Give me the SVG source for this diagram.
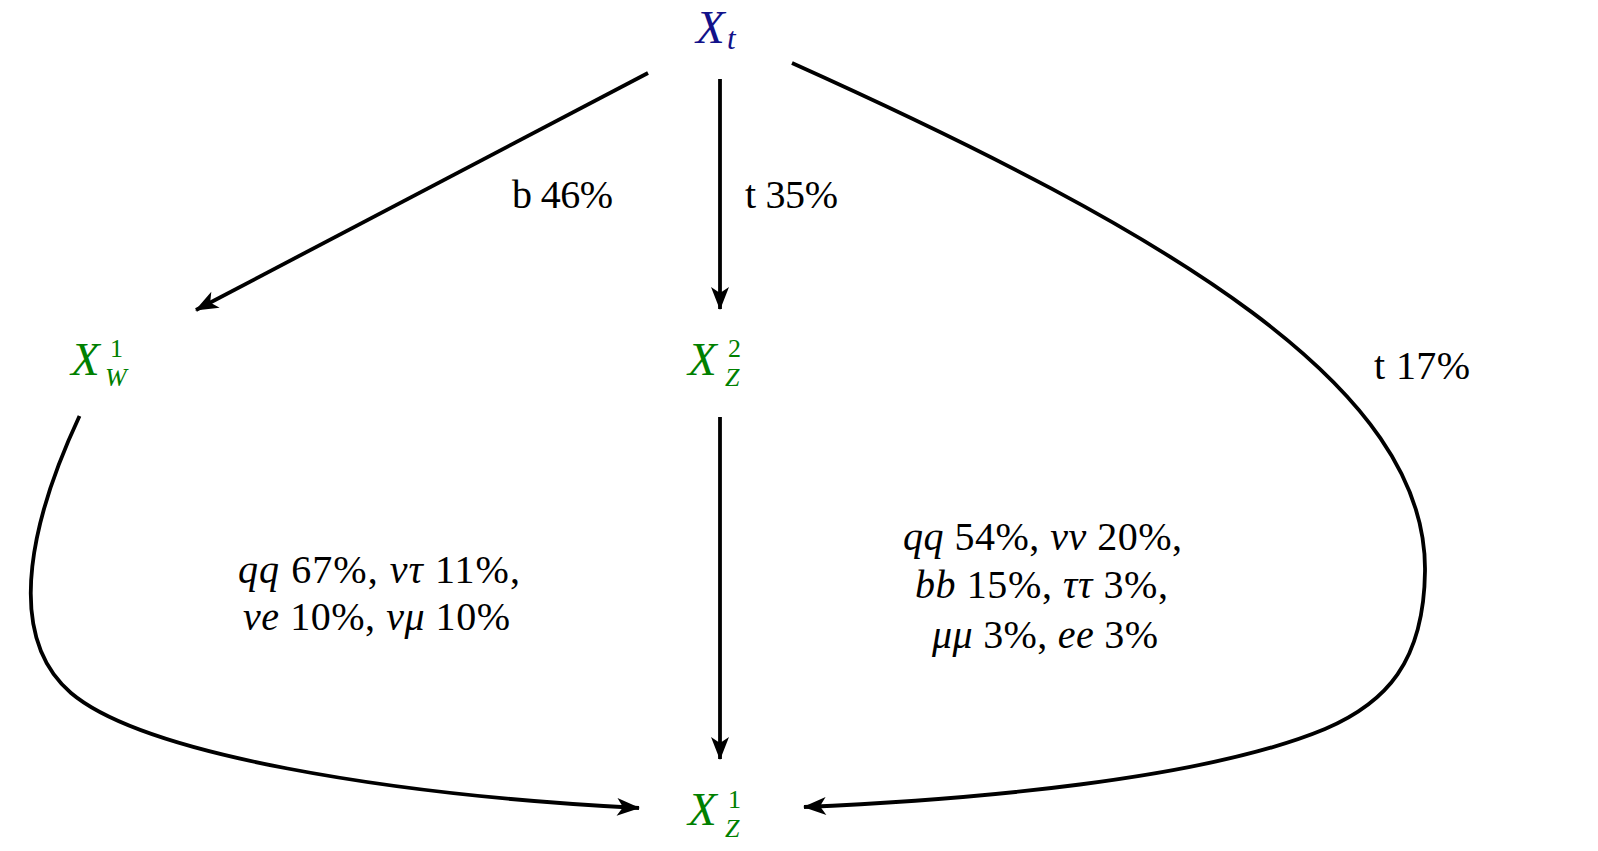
<svg xmlns="http://www.w3.org/2000/svg" width="1598" height="851" viewBox="0 0 1598 851">
<style>
.edge{fill:none;stroke:#000;stroke-width:3.8}
.node{font-family:"Liberation Serif","Times New Roman",serif;font-style:italic}
.big{font-size:47px}
.sm{font-size:26px}
.up{font-style:normal}
.lbl{font-family:"Liberation Serif","Times New Roman",serif;font-size:40px;fill:#000}
.m{font-style:italic}
.blue{fill:#12128a}
.green{fill:#008000}
</style>
<defs>
<marker id="ah" viewBox="-24 -11 26 22" refX="0" refY="0" markerWidth="26" markerHeight="22" markerUnits="userSpaceOnUse" orient="auto">
<path d="M1,0 L-22,-9 L-16,0 L-22,9 Z" fill="#000"/>
</marker>
</defs>
<rect width="1598" height="851" fill="#fff"/>
<g id="connectors">
<path class="edge" d="M648,73 L196,310" marker-end="url(#ah)"/>
<path class="edge" d="M720,79 L720,309" marker-end="url(#ah)"/>
<path class="edge" d="M720,417 L720,759" marker-end="url(#ah)"/>
<path class="edge" d="M79.5,416 C36,509 0,632 71,693 C143,754 387,795 639,808" marker-end="url(#ah)"/>
<path class="edge" d="M792,63 C1172,234 1427,387 1425,571 C1424,662 1386,703 1325,729 C1202,780 968,800 804,807" marker-end="url(#ah)"/>
</g>
<g id="node-Xt" class="node blue">
<text class="big" x="696" y="43">X</text>
<text x="727" y="49" font-size="31">t</text>
</g>
<g id="node-XW1" class="node green">
<text class="big" x="71" y="375">X</text>
<text class="sm up" x="110" y="357">1</text>
<text class="sm" x="105" y="386">W</text>
</g>
<g id="node-XZ2" class="node green">
<text class="big" x="688" y="375">X</text>
<text class="sm up" x="728" y="357">2</text>
<text class="sm" x="725" y="386">Z</text>
</g>
<g id="node-XZ1" class="node green">
<text class="big" x="688" y="825">X</text>
<text class="sm up" x="728" y="808">1</text>
<text class="sm" x="725" y="837">Z</text>
</g>
<g id="labels">
<text class="lbl" x="512" y="208" textLength="101">b 46%</text>
<text class="lbl" x="745" y="208" textLength="93">t 35%</text>
<text class="lbl" x="1374" y="379" textLength="96">t 17%</text>
<text class="lbl" x="238" y="583" textLength="282"><tspan class="m">qq</tspan> 67%, <tspan class="m">ντ</tspan> 11%,</text>
<text class="lbl" x="243" y="630" textLength="267"><tspan class="m">νe</tspan> 10%, <tspan class="m">νμ</tspan> 10%</text>
<text class="lbl" x="903" y="550" textLength="279"><tspan class="m">qq</tspan> 54%, <tspan class="m">νν</tspan> 20%,</text>
<text class="lbl" x="915" y="598" textLength="253"><tspan class="m">bb</tspan> 15%, <tspan class="m">ττ</tspan> 3%,</text>
<text class="lbl" x="932" y="648" textLength="226"><tspan class="m">μμ</tspan> 3%, <tspan class="m">ee</tspan> 3%</text>
</g>
</svg>
